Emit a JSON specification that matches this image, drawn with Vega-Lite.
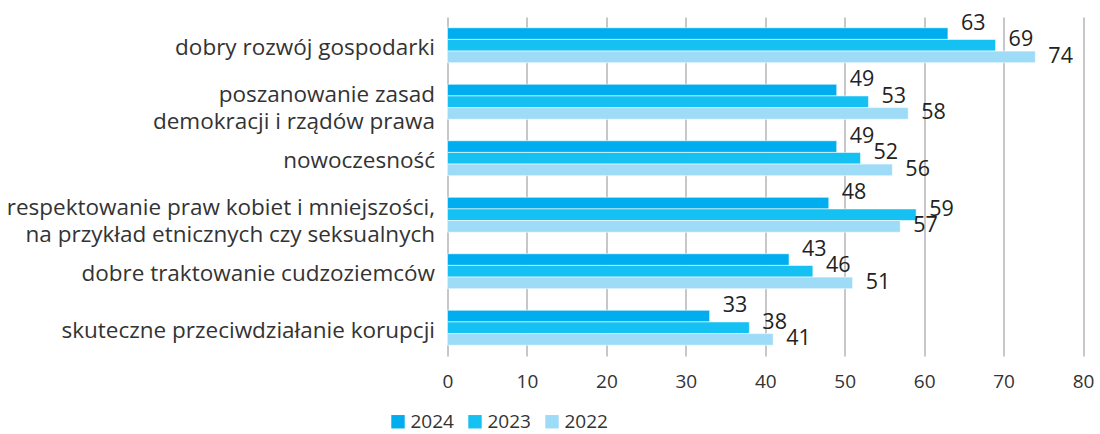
{
  "$schema": "https://vega.github.io/schema/vega-lite/v6.json",
  "autosize": {"type": "none"},
  "width": 635.5,
  "height": 339,
  "padding": {"left": 447.5, "top": 17, "right": 17, "bottom": 78},
  "background": "white",
  "config": {
    "font": "Open Sans",
    "view": {"stroke": null},
    "axis": {"labelFont": "Open Sans", "labelColor": "#333333"},
    "legend": {"labelFont": "Open Sans", "labelColor": "#333333"}
  },
  "data": {
    "values": [
      {"kategoria": "dobry rozwój gospodarki", "rok": "2024", "wartosc": 63},
      {"kategoria": "dobry rozwój gospodarki", "rok": "2023", "wartosc": 69},
      {"kategoria": "dobry rozwój gospodarki", "rok": "2022", "wartosc": 74},
      {"kategoria": "poszanowanie zasad|demokracji i rządów prawa", "rok": "2024", "wartosc": 49},
      {"kategoria": "poszanowanie zasad|demokracji i rządów prawa", "rok": "2023", "wartosc": 53},
      {"kategoria": "poszanowanie zasad|demokracji i rządów prawa", "rok": "2022", "wartosc": 58},
      {"kategoria": "nowoczesność", "rok": "2024", "wartosc": 49},
      {"kategoria": "nowoczesność", "rok": "2023", "wartosc": 52},
      {"kategoria": "nowoczesność", "rok": "2022", "wartosc": 56},
      {"kategoria": "respektowanie praw kobiet i mniejszości,|na przykład etnicznych czy seksualnych", "rok": "2024", "wartosc": 48},
      {"kategoria": "respektowanie praw kobiet i mniejszości,|na przykład etnicznych czy seksualnych", "rok": "2023", "wartosc": 59},
      {"kategoria": "respektowanie praw kobiet i mniejszości,|na przykład etnicznych czy seksualnych", "rok": "2022", "wartosc": 57},
      {"kategoria": "dobre traktowanie cudzoziemców", "rok": "2024", "wartosc": 43},
      {"kategoria": "dobre traktowanie cudzoziemców", "rok": "2023", "wartosc": 46},
      {"kategoria": "dobre traktowanie cudzoziemców", "rok": "2022", "wartosc": 51},
      {"kategoria": "skuteczne przeciwdziałanie korupcji", "rok": "2024", "wartosc": 33},
      {"kategoria": "skuteczne przeciwdziałanie korupcji", "rok": "2023", "wartosc": 38},
      {"kategoria": "skuteczne przeciwdziałanie korupcji", "rok": "2022", "wartosc": 41}
    ]
  },
  "encoding": {
    "y": {
      "field": "kategoria", "type": "nominal", "sort": null, "title": null,
      "scale": {"paddingInner": 0.38, "paddingOuter": 0.19},
      "axis": {
        "domain": false, "ticks": false, "labelPadding": 13, "labelFontSize": 22.5,
        "labelLineHeight": 27.5, "labelLimit": 500,
        "labelOffset": {"condition": {"test": "indexof(datum.value, '|') >= 0", "value": -7}, "value": 3},
        "labelExpr": "split(datum.value, '|')"
      }
    },
    "x": {
      "field": "wartosc", "type": "quantitative", "title": null,
      "scale": {"domain": [0, 80], "nice": false},
      "axis": {
        "values": [0, 10, 20, 30, 40, 50, 60, 70, 80], "domain": false, "ticks": false,
        "grid": true, "gridColor": "#b4b4b8", "gridWidth": 1.5,
        "labelPadding": 16, "labelFontSize": 19, "labelFlush": false
      }
    },
    "yOffset": {"field": "rok", "type": "nominal", "sort": ["2024", "2023", "2022"]}
  },
  "layer": [
    {
      "mark": {"type": "bar", "stroke": "white", "strokeWidth": 0.6},
      "encoding": {
        "color": {
          "field": "rok", "type": "nominal", "title": null,
          "sort": ["2024", "2023", "2022"],
          "scale": {"domain": ["2024", "2023", "2022"], "range": ["#00AEEF", "#15C0F2", "#9EDBF7"]},
          "legend": {
            "orient": "none", "direction": "horizontal", "legendX": -59, "legendY": 395,
            "symbolType": "square", "symbolSize": 180, "symbolStrokeWidth": 0,
            "labelFontSize": 19, "labelOffset": 3, "columnPadding": 11
          }
        }
      }
    },
    {
      "transform": [{"filter": "datum.rok == '2024'"}],
      "mark": {"type": "text", "align": "left", "baseline": "middle", "dx": 13, "dy": -10, "fontSize": 21.5, "color": "#222222"},
      "encoding": {"text": {"field": "wartosc", "type": "quantitative"}}
    },
    {
      "transform": [{"filter": "datum.rok == '2023'"}],
      "mark": {"type": "text", "align": "left", "baseline": "middle", "dx": 13, "dy": -5, "fontSize": 21.5, "color": "#222222"},
      "encoding": {"text": {"field": "wartosc", "type": "quantitative"}}
    },
    {
      "transform": [{"filter": "datum.rok == '2022'"}],
      "mark": {"type": "text", "align": "left", "baseline": "middle", "dx": 13, "dy": 0, "fontSize": 21.5, "color": "#222222"},
      "encoding": {"text": {"field": "wartosc", "type": "quantitative"}}
    }
  ]
}
